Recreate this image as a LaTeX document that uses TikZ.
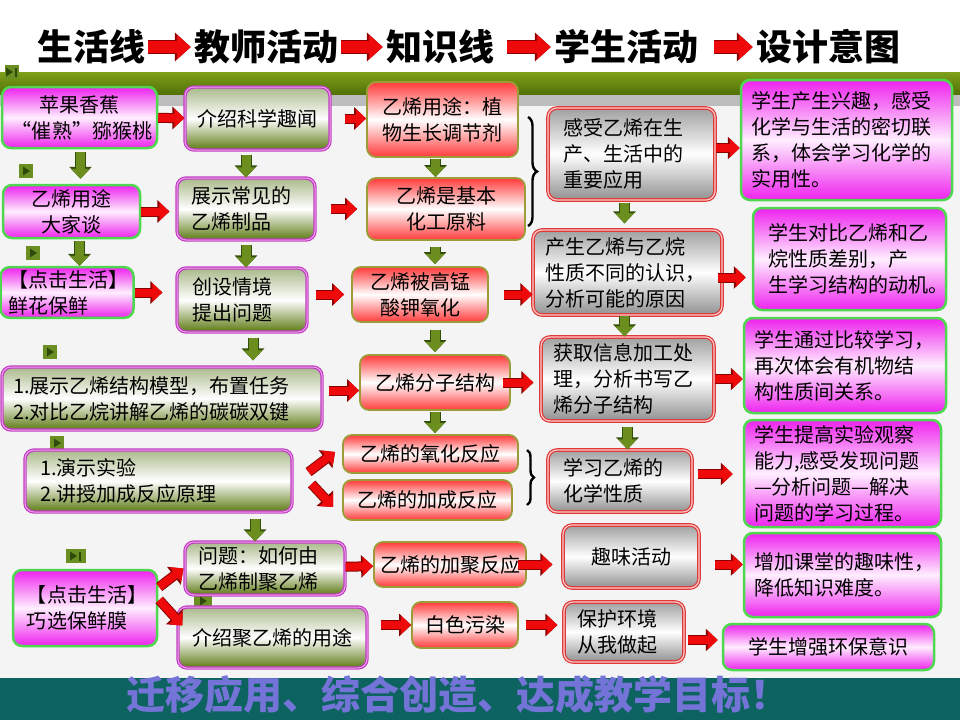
\documentclass[tikz,border=0pt]{standalone}
\usepackage{fontspec}
\setmainfont{Noto Sans CJK SC}
\usetikzlibrary{arrows.meta,calc,decorations.pathreplacing}
\definecolor{cBG}{HTML}{F4F4F4}
\definecolor{cBand1}{HTML}{7FA01A}
\definecolor{cBand2}{HTML}{4F7004}
\definecolor{cStrip}{HTML}{BDBDBD}
\definecolor{cFoot}{HTML}{0D635F}
\definecolor{cFootTxt}{HTML}{7474D8}
\definecolor{cMag}{HTML}{EE22EE}
\definecolor{cMagL}{HTML}{FFEEFF}
\definecolor{cPinkB}{HTML}{4FD84F}
\definecolor{cTB}{HTML}{C03CC0}
\definecolor{cTBL}{HTML}{F0A0F0}
\definecolor{cOl1}{HTML}{A9B98A}
\definecolor{cOl2}{HTML}{5C7A12}
\definecolor{cKB}{HTML}{9C9C38}
\definecolor{cRed}{HTML}{FF3A3A}
\definecolor{cSB}{HTML}{DD3A3A}
\definecolor{cSBL}{HTML}{FFC8C8}
\definecolor{cGr1}{HTML}{A0A0A0}
\definecolor{cGr2}{HTML}{909090}
\definecolor{cRA}{HTML}{EE0A0A}
\definecolor{cRAd}{HTML}{8A0000}
\definecolor{cGA}{HTML}{6B8E1E}
\definecolor{cGAd}{HTML}{33500A}
\definecolor{cPlay}{HTML}{6B8E23}
\definecolor{cPlayD}{HTML}{2F4A0A}
\begin{document}
\begin{tikzpicture}[x=1pt,y=-1pt,
  box/.style={rounded corners=9pt, inner xsep=10pt, inner ysep=3pt,
    font=\fontsize{20}{26}\selectfont, align=left},
  pinkbox/.style={box, draw=cPinkB, line width=2.5pt, top color=cMag, bottom color=cMag, middle color=cMagL},
  teachbox/.style={box, draw=cTB, double=cTBL, double distance=1pt, line width=1.2pt, top color=cOl1, bottom color=cOl2, middle color=white},
  knowbox/.style={box, draw=cKB, line width=1.8pt, top color=cRed, bottom color=cRed, middle color=white},
  studbox/.style={box, draw=cSB, double=cSBL, double distance=1.2pt, line width=1.2pt, top color=cGr1, bottom color=cGr2, middle color=white},
  ttl/.style={inner sep=3pt, font=\fontsize{36}{40}\selectfont\bfseries},
  ra/.style={draw=cRA, line width=8pt, -{Triangle[length=10pt,width=18pt]},
    preaction={draw=cRAd, line width=10pt, -{Triangle[length=12pt,width=22pt]}}},
  rta/.style={draw=cRA, line width=12pt, -{Triangle[length=14pt,width=24pt]},
    preaction={draw=cRAd, line width=14pt, -{Triangle[length=16pt,width=28pt]}}},
  ga/.style={draw=cGA, line width=9pt, -{Triangle[length=10pt,width=18pt]},
    preaction={draw=cGAd, line width=11pt, -{Triangle[length=12pt,width=22pt]}}},
  play/.style={fill=cPlay, minimum width=14pt, minimum height=14pt, inner sep=0pt,
    path picture={\fill[cPlayD] ([xshift=-3pt,yshift=-4.5pt]path picture bounding box.center) -- ++(0pt,9pt) -- ++(7pt,-4.5pt) -- cycle;}},
  playbar/.style={fill=cPlay, minimum width=20pt, minimum height=14pt, inner sep=0pt,
    path picture={\fill[cPlayD] ([xshift=-6pt,yshift=-4.5pt]path picture bounding box.center) -- ++(0pt,9pt) -- ++(7pt,-4.5pt) -- cycle;
      \fill[cPlayD] ([xshift=3pt,yshift=-4.5pt]path picture bounding box.center) rectangle ++(2pt,9pt);}},
  brc/.style={draw=black, line width=2.4pt, decorate, decoration={brace, amplitude=9pt}}
]
\useasboundingbox (0,0) rectangle (960,720);
% background
\fill[cBG] (0,0) rectangle (960,720);
\fill[white] (0,0) rectangle (960,72);
\shade[top color=cBand1, bottom color=cBand2] (0,72) rectangle (960,95);
\fill[cStrip] (0,95) rectangle (960,106);
\fill[cFoot] (0,678) rectangle (960,720);

% title
\node[ttl] (h1) at (91,47) {生活线};
\node[ttl] (h2) at (266,47) {教师活动};
\node[ttl] (h3) at (440,47) {知识线};
\node[ttl] (h4) at (626,47) {学生活动};
\node[ttl] (h5) at (828,47) {设计意图};
\draw[rta] (h1) -- (h2);
\draw[rta] (h2) -- (h3);
\draw[rta, shorten <=10pt] (h3) -- (h4);
\draw[rta, shorten <=13pt] (h4) -- (h5);

% play buttons
\node[playbar, minimum width=14pt] (p1) at (12,72) {};
\node[play] (p2) at (26,171) {};
\node[play] (p3) at (33,253) {};
\node[play] (p4) at (50,352) {};
\node[play] (p5) at (57,443) {};
\node[playbar] (p6) at (76,556) {};
\node[play, minimum width=18pt, minimum height=13pt] (p7) at (203,601) {};

% life line
\node[pinkbox, text width=135pt, minimum height=61pt, align=center] (L1) at (79.5,117.5) {苹果香蕉\\“催熟”猕猴桃};
\node[pinkbox, text width=117pt, minimum height=53pt, align=center] (L2) at (71.5,211.5) {乙烯用途\\大家谈};
\node[pinkbox, inner xsep=8pt, text width=117pt, minimum height=49pt] (L3) at (67,292.5) {【点击生活】\\鲜花保鲜};
\node[pinkbox, inner xsep=14pt, text width=116pt, minimum height=76pt] (L4) at (85,608) {【点击生活】\\巧选保鲜膜};

% teacher
\node[teachbox, text width=125pt, minimum height=63pt, align=center] (T1) at (257.5,118.5) {介绍科学趣闻};
\node[teachbox, inner xsep=14pt, text width=110pt, minimum height=62pt] (T2) at (246,209) {展示常见的\\乙烯制品};
\node[teachbox, inner xsep=15pt, text width=100pt, minimum height=64pt] (T3) at (242,300) {创设情境\\提出问题};
\node[teachbox, inner xsep=11pt, text width=298pt, minimum height=63pt] (T4) at (162,398.5) {1.展示乙烯结构模型，布置任务\\2.对比乙烷讲解乙烯的碳碳双键};
\node[teachbox, inner xsep=15pt, text width=237pt, minimum height=62pt] (T5) at (158.5,481) {1.演示实验\\2.讲授加成反应原理};
\node[teachbox, inner xsep=13pt, text width=134pt, minimum height=53pt] (T6) at (265,568.5) {问题：如何由\\乙烯制聚乙烯};
\node[teachbox, text width=169pt, minimum height=61pt, align=center] (T7) at (272.5,637.5) {介绍聚乙烯的用途};

% knowledge
\node[knowbox, text width=131pt, minimum height=75pt, align=center] (K1) at (442.5,119.5) {乙烯用途：植\\物生长调节剂};
\node[knowbox, text width=138pt, minimum height=62pt, align=center] (K2) at (446,209) {乙烯是基本\\化工原料};
\node[knowbox, text width=116pt, minimum height=55pt, align=center] (K3) at (420,294.5) {乙烯被高锰\\酸钾氧化};
\node[knowbox, text width=130pt, minimum height=55pt, align=center] (K4) at (435,382.5) {乙烯分子结构};
\node[knowbox, text width=155pt, minimum height=38pt, inner ysep=1pt, align=center] (K5) at (430.5,454) {乙烯的氧化反应};
\node[knowbox, text width=149pt, minimum height=40pt, inner ysep=1pt, align=center] (K6) at (427.5,500) {乙烯的加成反应};
\node[knowbox, inner xsep=5pt, text width=142pt, minimum height=45pt, align=center] (K7) at (450,564.5) {乙烯的加聚反应};
\node[knowbox, text width=86pt, minimum height=46pt, align=center] (K8) at (465,625) {白色污染};

% student
\node[studbox, inner xsep=15pt, text width=137pt, minimum height=92pt] (S1) at (631.5,154) {感受乙烯在生\\产、生活中的\\重要应用};
\node[studbox, inner xsep=12pt, text width=165pt, minimum height=85pt] (S2) at (627.5,272.5) {产生乙烯与乙烷\\性质不同的认识，\\分析可能的原因};
\node[studbox, inner xsep=12pt, text width=149pt, minimum height=84pt] (S3) at (627.5,379) {获取信息加工处\\理，分析书写乙\\烯分子结构};
\node[studbox, inner xsep=15pt, text width=114pt, minimum height=62pt] (S4) at (620,481) {学习乙烯的\\化学性质};
\node[studbox, text width=116pt, minimum height=63pt, align=center] (S5) at (631,556.5) {趣味活动};
\node[studbox, inner xsep=13pt, text width=94pt, minimum height=60pt] (S6) at (624,632) {保护环境\\从我做起};

% design intent
\node[pinkbox, text width=191pt, minimum height=120pt] (D1) at (846.5,140) {学生产生兴趣，感受\\化学与生活的密切联\\系，体会学习化学的\\实用性。};
\node[pinkbox, inner xsep=15pt, text width=163pt, minimum height=102pt] (D2) at (849.5,259) {学生对比乙烯和乙\\烷性质差别，产\\生学习结构的动机。};
\node[pinkbox, text width=182pt, minimum height=95pt] (D3) at (845,365.5) {学生通过比较学习，\\再次体会有机物结\\构性质间关系。};
\node[pinkbox, text width=177pt, minimum height=107pt, inner ysep=1pt] (D4) at (842.5,473.5) {学生提高实验观察\\能力,感受发现问题\\—分析问题—解决\\问题的学习过程。};
\node[pinkbox, text width=177pt, minimum height=84pt] (D5) at (842.5,575) {增加课堂的趣味性，\\降低知识难度。};
\node[pinkbox, text width=191pt, minimum height=46pt, align=center] (D6) at (828.5,647) {学生增强环保意识};

% braces
\coordinate (b1a) at (528,117);
\coordinate (b1b) at (528,226);
\draw[brc] (b1a) -- (b1b);
\coordinate (b2a) at (527,450);
\coordinate (b2b) at (527,505);
\draw[brc, decoration={brace, amplitude=7pt}] (b2a) -- (b2b);

% red arrows
\draw[ra] (L1) -- (T1);
\draw[ra, shorten <=14pt] (T1.east) -- (T1.east -| K1.west);
\draw[ra, shorten >=7pt] (L2.east) -- (L2.east -| T2.west);
\draw[ra, shorten <=15pt, shorten >=9pt] (T2) -- (K2);
\draw[ra, shorten >=14pt] (L3.east) -- (L3.east -| T3.west);
\draw[ra, shorten <=8pt, shorten >=7pt] (K3.west -| T3.east) -- (K3.west);
\draw[ra, shorten <=15pt] (K3.east) -- (K3.east -| S2.west);
\coordinate (o8) at ([yshift=6pt]S1.east);
\draw[ra] (o8) -- (o8 -| D1.west);
\coordinate (o9) at ([yshift=-5pt]S2.east);
\draw[ra, shorten <=-5pt, shorten >=6pt] (o9) -- (o9 -| D2.west);
\coordinate (o10) at ([yshift=-8pt]K4.west);
\draw[ra, shorten <=6pt] (o10 -| T4.east) -- (o10);
\draw[ra, shorten <=-8pt, shorten >=7pt] (K4.east) -- (K4.east -| S3.west);
\draw[ra] (S3.east) -- (S3.east -| D3.west);
\coordinate (o13) at ([yshift=7pt]S4.east);
\draw[ra, shorten <=5pt, shorten >=10pt] (o13) -- (o13 -| D4.west);
\draw[ra] (T6) -- (K7);
\draw[ra, shorten <=-9pt, shorten >=10pt] (K7.east) -- (K7.east -| S5.west);
\coordinate (o16) at ([yshift=-8pt]S5.east);
\draw[ra, shorten <=15pt] (o16) -- (o16 -| D5.west);
\draw[ra, shorten <=13pt] (K8.west -| T7.east) -- (K8.west);
\draw[ra, shorten <=7pt, shorten >=6pt] (K8.east) -- (K8.east -| S6.west);
\coordinate (o19) at ([yshift=-8pt]S6.east);
\draw[ra, shorten <=3pt, shorten >=4pt] (o19) -- (o19 -| D6.west);
% diagonal
\draw[ra] ($(T5.east)+(16,-9)$) -- ($(K5.west)+(-7,-2)$);
\draw[ra] ($(T5.east)+(19,3)$) -- ($(K6.west)+(-9,7)$);
\draw[ra] ($(L4.east)+(1,-21)$) -- ($(T6.west)+(-1,0)$);
\draw[ra] ($(L4.east)+(1,-8)$) -- ($(T7.west)+(5,-12)$);

% green arrows
\coordinate (g1) at ([xshift=1pt]L1.south);
\draw[ga, shorten <=3pt, shorten >=5pt] (g1) -- (g1 |- L2.north);
\draw[ga, shorten <=4pt] (T2.north |- T1.south) -- (T2.north);
\coordinate (g3) at ([xshift=-7pt]K1.south);
\draw[ga, shorten <=1pt] (g3) -- (g3 |- K2.north);
\coordinate (g4) at ([xshift=8pt]L2.south);
\draw[ga, shorten <=2pt] (g4) -- (g4 |- L3.north);
\draw[ga, shorten <=4pt] (T2.south) -- (T2.south |- T3.north);
\coordinate (g6) at ([xshift=-11pt]K2.south);
\draw[ga, shorten <=6pt, shorten >=2pt] (g6) -- (g6 |- K3.north);
\coordinate (g7) at ([xshift=-7pt]S1.south);
\draw[ga, shorten <=2pt, shorten >=6pt] (g7) -- (g7 |- S2.north);
\coordinate (g8) at ([xshift=11pt]T3.south);
\draw[ga, shorten <=5pt, shorten >=6pt] (g8) -- (g8 |- T4.north);
\coordinate (g9) at ([xshift=15pt]K3.south);
\draw[ga, shorten <=7pt, shorten >=2pt] (g9) -- (g9 |- K4.north);
\coordinate (g10) at ([xshift=-3pt]S2.south);
\draw[ga] (g10) -- (g10 |- S3.north);
\draw[ga, shorten <=1pt, shorten >=1pt] (K4.south) -- (K4.south |- K5.north);
\draw[ga, shorten <=5pt] (S3.south) -- (S3.south |- S4.north);
\coordinate (g13) at ([xshift=-10pt]T6.north);
\draw[ga, shorten <=6pt] (g13 |- T5.south) -- (g13);

% footer
\node[text=cFootTxt, font=\fontsize{39}{44}\selectfont\bfseries] (foot) at (458,695) {迁移应用、综合创造、达成教学目标！};
\end{tikzpicture}
\end{document}
